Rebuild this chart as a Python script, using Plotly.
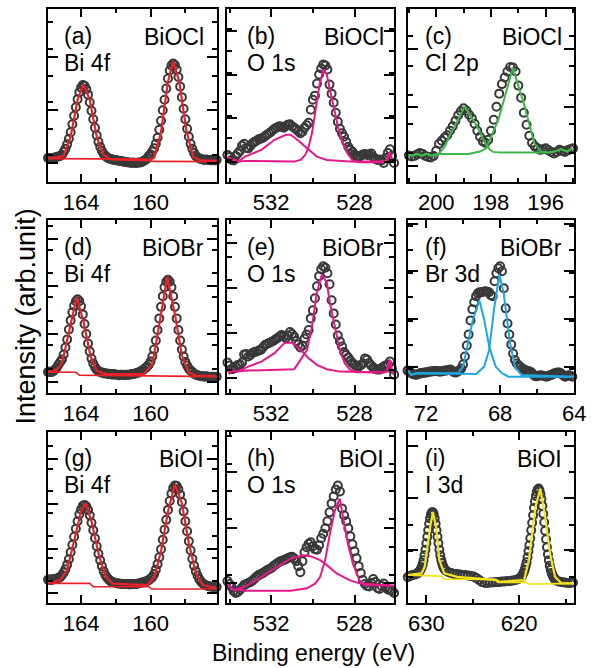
import plotly.graph_objects as go

def grid(start, step, n):
    return [round(start - step * i, 2) for i in range(n)]

# ---------------- (a) Bi 4f, BiOCl ----------------
a_int = [24, 23.5, 24, 23, 24.5, 25, 25.5, 26, 27, 30,
         33, 37.5, 43, 49.5, 57.5, 66, 74.5, 82.5, 89.5, 94,
         96.5, 95.8, 92.5, 87, 79.5, 71, 62.5, 54, 46.5, 40,
         35, 31, 28, 26, 24.5, 23.5, 23, 22.5, 22, 22,
         21.5, 21, 21, 20.5, 20, 20, 19.5, 19.5, 19, 19.5,
         19, 19, 19.5, 19.5, 20, 21, 22, 23.5, 26, 27.5,
         30.5, 33.5, 38, 44, 52, 61, 71.5, 82, 93, 103,
         111, 116, 118, 116.5, 112, 104.5, 95, 84.5, 73, 62.5,
         53, 45, 38, 33, 29, 26, 24.5, 23.5, 23, 22.5,
         22, 22.5, 22, 22, 21.5, 22, 21.5, 22]
a_be = grid(165.9, 0.1, len(a_int))
a_fit_be = [165.9, 165.4, 165.0, 164.6, 164.2, 163.87, 163.5, 163.1, 162.7, 162.3,
            160.2, 159.8, 159.4, 159.0, 158.7, 158.35, 157.95, 157.55, 157.1, 156.2]
a_fit = [24, 24.5, 26, 45, 82, 97, 82, 45, 27, 22.5, 21.5, 24, 50, 100, 120, 100, 52, 25, 21.5, 21]
a_bg_be = [165.9, 160.25, 160.0, 156.2]
a_bg = [23.3, 22.8, 20.5, 20.3]

# ---------------- (b) O 1s, BiOCl ----------------
b_int = [27, 25, 22, 21.5, 26, 28.5, 31, 36, 38, 34,
         33.5, 36, 38.5, 40, 41, 42.5, 43, 44, 45.5, 47,
         48.5, 50, 52, 53.5, 54.5, 55.5, 55, 54, 55.5, 57,
         57.5, 55.5, 54, 52.5, 50.5, 48.5, 50, 54, 56.5, 59,
         72, 82, 86, 98, 107, 113, 117, 116, 112, 97,
         88, 79, 69, 60, 53, 48.5, 45, 40, 35, 32,
         30, 27.5, 25.5, 25, 26, 27.5, 28, 27, 27.5, 28.5,
         25, 23, 22, 22.5, 21.5, 19, 24, 29, 32.5, 26,
         19]
b_be = grid(534.1, 0.1, len(b_int))
b_c1_be = [534.1, 534.0, 533.9, 533.78, 533.57, 533.26, 532.47, 531.84, 531.29, 531.06, 530.75,
           530.28, 529.81, 529.33, 528.24, 526.83, 526.6, 526.45, 526.3, 526.2, 526.1]
b_c1 = [25, 24, 19, 22.7, 20.3, 25.3, 32, 42, 47, 47, 42, 33.7, 25.3, 22, 20.3, 20.3, 21, 21.5, 30, 22, 19]
b_c2_be = [534.1, 534.0, 533.9, 533.78, 533.57, 533.3, 530.9, 530.59, 530.36, 530.2, 530.04, 529.88,
           529.68, 529.49, 529.33, 529.18, 529.02, 528.78, 528.55, 528.32, 528.08, 527.77, 526.67,
           526.45, 526.3, 526.2, 526.1]
b_c2 = [25, 24, 19, 22.7, 20.3, 21, 20.3, 22, 27, 35.3, 48.7, 72, 97, 112, 107, 92, 75.3, 53.7, 38.7,
        28, 21, 19.7, 19.7, 21.5, 30, 22, 19]

# ---------------- (c) Cl 2p, BiOCl ----------------
c_int = [26.5, 25.5, 26, 27.5, 29, 28, 26, 25, 24.5, 26,
         31, 38, 41, 44, 46.5, 51, 55.5, 61, 66.5, 70.5,
         73.5, 71, 67, 63.5, 58, 51, 45, 40.5, 39, 42,
         51, 62, 75, 88, 97.5, 104, 110, 114.5, 114, 110,
         96, 84, 69, 57, 46, 39, 35.5, 33.5, 32, 32.5,
         33.5, 31.5, 30, 28.5, 30, 32, 31, 30, 31.5, 32.5,
         33.5]
c_be = grid(201.0, 0.1, len(c_int))
c_c1_be = [201.07, 200.89, 200.71, 200.54, 200.36, 200.18, 199.94, 199.7, 199.46, 198.96, 198.51,
           198.21, 198.04, 197.92, 197.68, 195.9, 195.68, 195.44, 195.21, 195.04]
c_c1 = [28.7, 26, 28, 26, 28, 26.5, 27, 35, 48.7, 75.3, 55.3, 38.7, 32, 30, 29.3, 29.3, 30.3, 32.7, 30.3, 33.7]
c_c2_be = [201.07, 200.89, 200.71, 200.54, 200.36, 200.18, 199.94, 198.83, 198.4, 198.17, 197.73,
           197.2, 196.77, 196.42, 196.18, 195.9, 195.68, 195.44, 195.21, 195.04]
c_c2 = [28.7, 26, 28, 26, 28, 26.5, 28, 28, 30.3, 33.7, 62, 113.7, 75.3, 38.7, 30.3, 29.3, 30.3, 32.7, 30.3, 33.7]

# ---------------- (d) Bi 4f, BiOBr ----------------
d_int = [20.5, 21, 20.5, 21.5, 23, 25, 28, 30.5, 33, 38,
         45, 53, 63, 72, 80, 86.5, 91, 93, 91.2, 86,
         78, 68.5, 58.5, 49, 41, 34, 29, 25.5, 23, 21.5,
         20.5, 20, 19.5, 19, 19, 18.5, 18.5, 18, 18.5, 18,
         18, 17.5, 18, 18, 17.5, 18, 18, 18, 18.5, 18.5,
         19, 19.5, 20, 21, 22, 23, 24.5, 26, 28, 31,
         36, 43, 52, 62.5, 74, 85.5, 96, 105, 110.5, 112.5,
         110.5, 105, 96, 85.5, 74, 62.5, 52, 43, 36, 30.5,
         27, 24, 22, 20.5, 19, 18, 17.5, 17, 16.5, 16.5,
         16, 16.5, 16, 15.5, 16, 16, 15.5, 16]
d_be = grid(165.9, 0.1, len(d_int))
d_fit_be = [165.9, 165.4, 165.1, 164.7, 164.25, 163.85, 163.45, 163.1, 162.6, 160.4, 159.9, 159.5,
            159.05, 158.6, 158.2, 157.8, 157.4, 156.2]
d_fit = [21, 23, 29, 60, 95, 70, 36, 22, 18.5, 18.5, 28, 68, 115, 78, 37, 20, 17, 16.5]
d_bg_be = [165.9, 164.3, 164.1, 156.2]
d_bg = [20.5, 20.3, 17.5, 16]

# ---------------- (e) O 1s, BiOBr ----------------
e_int = [30, 27, 23.5, 24, 26, 27.5, 28, 30, 38, 38.5,
         36, 37.5, 39.5, 40.5, 41, 42, 42.5, 45, 47.5, 48.5,
         49.5, 50.5, 51.5, 53, 54.5, 56, 57.5, 56, 54.5, 57,
         60.5, 58.5, 56, 51.5, 48, 45, 47, 54, 58, 62.5,
         74, 82, 94, 106, 116, 123, 126, 124.5, 119, 108,
         92, 79, 68, 57, 51, 46, 40.5, 37.5, 35, 32,
         29.5, 28, 26.5, 26, 27.5, 29, 34, 33, 29.5, 27,
         25, 23.5, 23, 23, 24.5, 26, 27, 28, 31, 24,
         18]
e_be = grid(534.1, 0.1, len(e_int))
e_c1_be = [534.1, 534.0, 533.9, 533.65, 533.1, 532.47, 531.84, 531.37, 531.0, 530.59, 530.2,
           529.81, 529.33, 528.71, 526.6, 526.45, 526.3, 526.2, 526.1]
e_c1 = [24, 19.4, 22, 21, 26, 31, 39.4, 49.4, 50, 42.7, 34.4, 27.7, 23.4, 21, 20, 21, 32.7, 22, 17.7]
e_c2_be = [534.1, 534.0, 533.9, 533.65, 533.1, 530.9, 530.75, 530.59, 530.28, 530.04, 529.81, 529.57,
           529.33, 529.18, 528.94, 528.71, 528.47, 528.24, 527.93, 526.6, 526.45, 526.3, 526.2, 526.1]
e_c2 = [24, 19.4, 22, 21, 22, 23.4, 27.7, 33, 42.7, 66, 99.4, 117.7, 109.4, 89.4, 66, 42.7, 29.4,
        23.4, 20.4, 20.4, 21.5, 32.7, 22, 17.7]

# ---------------- (f) Br 3d, BiOBr ----------------
f_int = [22, 21, 19.5, 18.5, 18, 18, 18.5, 19.5, 19.5, 20,
         20, 20.5, 21, 21, 21.5, 21.5, 21.5, 21, 21, 21.5,
         22, 22, 22.5, 23, 22, 20.5, 20, 21, 22, 24,
         28, 36, 47, 58, 72, 83, 90, 96, 99, 100,
         100, 100.5, 101, 100.5, 100, 97, 96, 111, 119, 124,
         126, 121, 104, 84, 69, 58, 48, 39, 32.5, 29,
         27, 25.5, 24, 23, 22, 21.5, 21, 20, 18, 16.5,
         16.5, 17, 17.5, 17, 16.5, 16, 16.5, 17.5, 18, 19,
         19.5, 20, 20, 19, 17.5, 16, 16.5, 17.5, 17, 16]
f_be = grid(73.0, 0.1, len(f_int))
f_c1_be = [73.05, 72.79, 72.52, 72.09, 70.26, 70.0, 69.73, 69.47, 69.12, 68.86, 68.59, 68.24, 67.9, 67.55, 64.0]
f_c1 = [23.4, 17.7, 19.4, 19.4, 19.4, 26, 49.4, 72.7, 92, 72.7, 46, 26, 19.4, 16, 16]
f_c2_be = [73.05, 72.79, 72.52, 72.09, 69.29, 68.86, 68.59, 68.33, 68.04, 67.81, 67.64, 67.46, 67.2, 66.85, 64.0]
f_c2 = [23.4, 17.7, 19.4, 19.4, 18.7, 26, 42.7, 82.7, 117.7, 99.4, 72.7, 49.4, 26, 17.7, 16]

# ---------------- (g) Bi 4f, BiOI ----------------
g_int = [23.5, 23.5, 23, 24, 24, 24.5, 25, 26, 28, 30.5,
         34, 38.5, 44, 51, 58.5, 66.5, 74.5, 82, 89, 94,
         97.5, 98.5, 97, 93.5, 88, 80.5, 73, 65, 57, 49.5,
         43, 37, 32, 28, 25.5, 23.5, 22, 21, 20.5, 20,
         19.5, 19.5, 19, 19, 19, 19, 19, 18.5, 19, 19,
         19, 19, 19.5, 20, 20.5, 21, 21.5, 22, 23, 24.5,
         26, 29, 33.5, 39, 46, 54, 63.5, 73.5, 83.5, 93.5,
         102.5, 110, 115.5, 118, 117.5, 114.5, 109, 101.5, 92, 82,
         72, 62, 53, 44.5, 37.5, 32, 27.5, 24, 21.5, 19.5,
         18.5, 17.5, 17, 16.5, 16.5, 16, 16.5, 16]
g_be = grid(165.9, 0.1, len(g_int))
g_fit_be = [165.9, 165.2, 164.8, 164.4, 164.0, 163.75, 163.4, 163.0, 162.6, 162.2, 160.2, 159.8,
            159.4, 159.0, 158.6, 158.2, 157.8, 157.4, 157.0, 156.2]
g_fit = [20, 23, 33, 64, 92, 100, 82, 50, 27, 19.5, 18, 25, 52, 92, 119, 100, 60, 30, 18, 15]
g_bg_be = [165.9, 163.5, 163.3, 160.1, 159.95, 156.2]
g_bg = [19.7, 19.7, 16.3, 16.3, 14, 14]

# ---------------- (h) O 1s, BiOI ----------------
h_int = [22, 19, 16, 12, 10, 11, 13, 15.5, 18, 19,
         20, 21, 22.5, 24.5, 26.5, 28, 29, 30, 31.5, 33,
         34, 35, 37, 38.5, 40, 41.5, 42.5, 43, 44, 45,
         46, 46.5, 45, 42, 37, 31, 42, 51, 56, 59.5,
         61, 57, 54, 53.5, 58, 65, 69.5, 75, 82, 91,
         100, 107, 114, 118, 112, 95, 88, 82, 75, 67,
         59, 52, 45, 37, 30, 23, 19, 17, 16.5, 20,
         24, 21, 15, 14, 17, 19.5, 16, 13.5, 13, 12,
         10]
h_be = grid(534.1, 0.1, len(h_int))
h_c1_be = [534.1, 534.04, 533.8, 533.57, 533.26, 532.47, 531.69, 531.06, 530.43, 530.12, 529.65,
           529.33, 528.86, 528.24, 527.77, 526.1]
h_c1 = [20, 18, 13, 14.7, 16.3, 26.3, 36.3, 44.7, 48, 47, 43, 38, 29.7, 23, 19.7, 17.3]
h_c2_be = [534.1, 534.04, 533.8, 533.57, 533.26, 531.06, 530.28, 529.88, 529.65, 529.41, 529.18,
           528.94, 528.71, 528.52, 528.32, 528.08, 527.77, 527.54, 526.1]
h_c2 = [20, 18, 13, 13.5, 12.3, 12.3, 14.7, 19.7, 26.3, 43, 69.7, 93, 104.7, 83, 59.7, 39.7, 23, 18, 17.3]

# ---------------- (i) I 3d, BiOI ----------------
i_int = [26, 27, 28, 28.5, 29.5,
         30, 31, 32.5, 34, 36, 39, 43, 48, 53.5, 60,
         66.5, 73, 79.5, 85, 89, 91, 91, 89, 85, 79.5,
         73, 66.5, 60, 53.5, 48, 43.5, 40, 37, 35, 33.5,
         32.5,
         31, 30, 29, 29, 28.5, 28, 28, 27.5, 27, 26.5,
         25, 23, 21, 20, 20, 20.5, 20.5, 21, 21, 21.5,
         21.5, 22, 22, 22.5, 23, 24,
         25, 26, 27, 29, 31, 33.5, 37, 41, 46, 52,
         58, 65, 73, 80.5, 88, 95.5, 102, 107.5, 111.5, 114,
         115, 113, 109.5, 104.5, 97.5, 89.5, 81, 72.5, 64, 56,
         49, 43, 37.5, 33.5, 30, 28, 26, 24.5, 23.5, 22.5,
         21.5, 21, 20.5, 20, 20, 20.5]
i_be = grid(632.0, 0.25, 5) + grid(630.9, 0.1, 31) + grid(627.6, 0.3, 26) + grid(619.9, 0.1, 40) + grid(615.7, 0.3, 6)
i_fit_be = [632.1, 630.53, 630.18, 629.65, 629.3, 628.95, 628.6, 628.07, 626.67, 622.46, 622.11,
            619.47, 618.95, 618.25, 617.72, 617.19, 616.67, 616.14, 615.44, 614.03]
i_fit = [28, 29.7, 36.3, 73, 91.3, 76.3, 43, 29.7, 26.3, 23, 21.3, 23, 43, 96.3, 114.7, 86.3, 49.7, 26.3, 19.7, 19.7]
i_bg_be = [632.1, 628.4, 628.1, 622.5, 622.3, 619.3, 619.0, 614.03]
i_bg = [28, 27, 24, 23.7, 20.7, 20.7, 19, 19.7]

# ---------------- labels ----------------
panel_tags = ["(a)", "(b)", "(c)", "(d)", "(e)", "(f)", "(g)", "(h)", "(i)"]
core_levels = ["Bi 4f", "O 1s", "Cl 2p", "Bi 4f", "O 1s", "Br 3d", "Bi 4f", "O 1s", "I 3d"]
materials = ["BiOCl", "BiOCl", "BiOCl", "BiOBr", "BiOBr", "BiOBr", "BiOI", "BiOI", "BiOI"]

RED, PINK, GREEN, BLUE, YELLOW = "#e8212a", "#e6198a", "#3fb54a", "#1ea7e1", "#f3e41c"
DOT = "#383838"
FONT = "Liberation Sans, Arial, sans-serif"

panels = [
    dict(x=a_be, y=a_int, lines=[(a_bg_be, a_bg, RED, 1.6), (a_fit_be, a_fit, RED, 2.2)],
         xr=[165.9, 156.2], dt=4, t0=164, mdt=2, yt0=18.7, ydt=53, ymdt=26.5),
    dict(x=b_be, y=b_int, lines=[(b_c1_be, b_c1, PINK, 2), (b_c2_be, b_c2, PINK, 2)],
         xr=[534.1, 526.1], dt=4, t0=528, mdt=2, yt0=19.7, ydt=43.6, ymdt=21.8),
    dict(x=c_be, y=c_int, lines=[(c_c1_be, c_c1, GREEN, 2), (c_c2_be, c_c2, GREEN, 2)],
         xr=[201.05, 194.96], dt=2, t0=196, mdt=1, yt0=16.3, ydt=58, ymdt=29),
    dict(x=d_be, y=d_int, lines=[(d_bg_be, d_bg, RED, 1.6), (d_fit_be, d_fit, RED, 2.2)],
         xr=[165.9, 156.2], dt=4, t0=164, mdt=2, yt0=11, ydt=47.5, ymdt=23.75),
    dict(x=e_be, y=e_int, lines=[(e_c1_be, e_c1, PINK, 2), (e_c2_be, e_c2, PINK, 2)],
         xr=[534.1, 526.1], dt=4, t0=528, mdt=2, yt0=14.4, ydt=45, ymdt=22.5),
    dict(x=f_be, y=f_int, lines=[(f_c1_be, f_c1, BLUE, 2), (f_c2_be, f_c2, BLUE, 2)],
         xr=[73.0, 64.0], dt=4, t0=64, mdt=2, yt0=26, ydt=47.5, ymdt=23.75),
    dict(x=g_be, y=g_int, lines=[(g_bg_be, g_bg, RED, 1.6), (g_fit_be, g_fit, RED, 2.2)],
         xr=[165.9, 156.2], dt=4, t0=164, mdt=2, yt0=9.7, ydt=45, ymdt=22.5),
    dict(x=h_be, y=h_int, lines=[(h_c1_be, h_c1, PINK, 2), (h_c2_be, h_c2, PINK, 2)],
         xr=[534.1, 526.1], dt=4, t0=528, mdt=2, yt0=19.7, ydt=56, ymdt=28),
    dict(x=i_be, y=i_int, lines=[(i_bg_be, i_bg, YELLOW, 1.6), (i_fit_be, i_fit, YELLOW, 2.2)],
         xr=[632.03, 614.07], dt=10, t0=620, mdt=5, yt0=0.5, ydt=52.5, ymdt=26.25),
]

W, H = 610, 668
col_px = [(49, 221), (232, 402), (415.7, 585.7)]
row_px = [(9.3, 182), (220, 392.7), (431.7, 603)]
tag_x = [0.082, 0.106, 0.094]
mat_x = [0.93, 0.945, 0.935]

fig = go.Figure()
layout = dict(width=W, height=H, margin=dict(l=0, r=0, t=0, b=0), autosize=False,
              paper_bgcolor="white", plot_bgcolor="white", showlegend=False,
              font=dict(family=FONT, color="black"))
annotations = []

for k, p in enumerate(panels):
    r, c = divmod(k, 3)
    n = "" if k == 0 else str(k + 1)
    xa, ya = "x" + n, "y" + n
    fig.add_trace(go.Scatter(x=p["x"], y=p["y"], mode="markers", xaxis=xa, yaxis=ya,
                             cliponaxis=False,
                             marker=dict(symbol="circle-open", size=8, color=DOT,
                                         line=dict(width=2, color=DOT))))
    for lx, ly, col, lw in p["lines"]:
        fig.add_trace(go.Scatter(x=lx, y=ly, mode="lines", xaxis=xa, yaxis=ya,
                                 line=dict(color=col, width=lw)))
    x0, x1 = col_px[c]
    y0, y1 = row_px[r]
    layout["xaxis" + n] = dict(
        domain=[x0 / W, x1 / W], anchor=ya, range=p["xr"], autorange=False,
        showline=True, linewidth=2, linecolor="black", mirror="allticks",
        ticks="inside", ticklen=8, tickwidth=2, tickcolor="black",
        tick0=p["t0"], dtick=p["dt"],
        minor=dict(dtick=p["mdt"], ticks="inside", ticklen=4, tickwidth=2, tickcolor="black", showgrid=False),
        showgrid=False, zeroline=False,
        tickfont=dict(size=22, family=FONT, color="black"))
    layout["yaxis" + n] = dict(
        domain=[1 - y1 / H, 1 - y0 / H], anchor=xa, range=[0, 172], autorange=False,
        showline=True, linewidth=2, linecolor="black", mirror="allticks",
        ticks="inside", ticklen=10, tickwidth=2, tickcolor="black",
        tick0=p["yt0"], dtick=p["ydt"],
        minor=dict(dtick=p["ymdt"], ticks="inside", ticklen=5, tickwidth=2, tickcolor="black", showgrid=False),
        showticklabels=False, showgrid=False, zeroline=False)
    xd, yd = xa + " domain", ya + " domain"
    annotations.append(dict(text=panel_tags[k], xref=xd, yref=yd, x=tag_x[c], y=0.845,
                            xanchor="left", yanchor="middle", showarrow=False,
                            font=dict(size=23, family=FONT, color="black")))
    annotations.append(dict(text=core_levels[k], xref=xd, yref=yd, x=tag_x[c], y=0.69,
                            xanchor="left", yanchor="middle", showarrow=False,
                            font=dict(size=23, family=FONT, color="black")))
    annotations.append(dict(text=materials[k], xref=xd, yref=yd, x=mat_x[c] + 0.005, y=0.84,
                            xanchor="right", yanchor="middle", showarrow=False,
                            font=dict(size=23, family=FONT, color="black")))

annotations.append(dict(text="Binding energy (eV)", xref="paper", yref="paper",
                        x=320 / W, y=1 - 653 / H, xanchor="center", yanchor="middle",
                        showarrow=False, font=dict(size=23, family=FONT, color="black")))
annotations.append(dict(text="Intensity (arb.unit)", xref="paper", yref="paper",
                        x=27 / W, y=1 - 316 / H, xanchor="center", yanchor="middle",
                        textangle=-90, showarrow=False,
                        font=dict(size=27, family=FONT, color="black")))
layout["annotations"] = annotations
fig.update_layout(**layout)
fig.write_html("out.html")
